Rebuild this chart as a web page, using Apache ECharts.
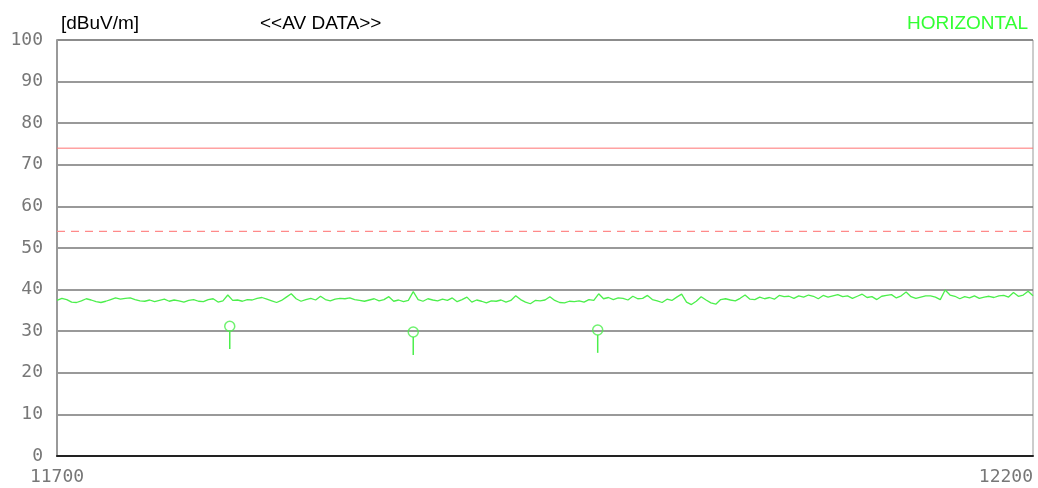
<!DOCTYPE html>
<html>
<head>
<meta charset="utf-8">
<script src="https://cdn.jsdelivr.net/npm/echarts@6/dist/echarts.min.js"></script>
<style>
  html, body { margin: 0; padding: 0; background: #fff; }
  #chart { width: 1038px; height: 488px; }
</style>
</head>
<body>
<div id="chart"></div>
<script>
// frequency axis (MHz)
const freqStart = 11700;
const freqEnd = 12200;
const freqStep = 2.5;

// measured AV trace, one value every freqStep
const traceValues = [
  37.4, 37.9, 37.6, 37.0, 36.9, 37.3, 37.8, 37.5, 37.1, 36.9,
  37.2, 37.6, 38.0, 37.7, 37.9, 38.0, 37.6, 37.3, 37.2, 37.5,
  37.1, 37.4, 37.7, 37.2, 37.5, 37.3, 37.0, 37.4, 37.6, 37.2,
  37.1, 37.6, 37.8, 37.0, 37.3, 38.7, 37.4, 37.5, 37.2, 37.6,
  37.5, 37.9, 38.1, 37.7, 37.3, 36.9, 37.4, 38.2, 39.0, 37.8,
  37.2, 37.6, 37.9, 37.5, 38.4, 37.6, 37.3, 37.7, 37.9, 37.8,
  38.0, 37.6, 37.4, 37.2, 37.5, 37.8, 37.3, 37.6, 38.3, 37.2,
  37.5, 37.1, 37.4, 39.5, 37.6, 37.2, 37.8, 37.5, 37.3, 37.7,
  37.4, 38.0, 37.1, 37.6, 38.2, 37.0, 37.5, 37.2, 36.8, 37.3,
  37.2, 37.5, 37.0, 37.4, 38.5, 37.6, 37.0, 36.6, 37.4, 37.3,
  37.5, 38.3, 37.4, 36.9, 36.8, 37.2, 37.1, 37.3, 37.0, 37.6,
  37.4, 39.0, 37.8, 38.1, 37.6, 38.0, 37.9, 37.5, 38.4, 37.8,
  37.9, 38.6, 37.6, 37.3, 36.9, 37.7, 37.4, 38.2, 38.9, 37.0,
  36.4, 37.2, 38.3, 37.5, 36.8, 36.5, 37.6, 37.8, 37.5, 37.3,
  37.9, 38.7, 37.7, 37.6, 38.2, 37.8, 38.1, 37.7, 38.6, 38.3,
  38.4, 37.9, 38.5, 38.2, 38.7, 38.4, 37.8, 38.6, 38.2, 38.5,
  38.8, 38.3, 38.5, 37.9, 38.4, 38.9, 38.1, 38.3, 37.6, 38.4,
  38.6, 38.8, 38.0, 38.5, 39.4, 38.3, 37.9, 38.2, 38.5, 38.5,
  38.2, 37.6, 39.9, 38.7, 38.4, 37.8, 38.3, 38.0, 38.5, 37.9,
  38.2, 38.4, 38.1, 38.5, 38.6, 38.2, 39.3, 38.4, 38.7, 39.6,
  38.5
];

// peak markers
const markerFreqs = [11788.5, 11882.5, 11977];
const markerValues = [31.2, 29.8, 30.3];
const stemLength = 5.5;

// limit lines
const limitPeak = 74;
const limitAvg = 54;

const yTicks = [0, 10, 20, 30, 40, 50, 60, 70, 80, 90, 100];

const green = '#4cef4c';

const traceData = traceValues.map((v, i) => [freqStart + i * freqStep, v]);
const markerData = markerFreqs.map((f, i) => [f, markerValues[i]]);

const chart = echarts.init(document.getElementById('chart'));

const option = {
  animation: false,
  backgroundColor: '#fff',
  title: [
    {
      text: '[dBuV/m]', left: 56, top: 9,
      textStyle: { fontFamily: 'Liberation Sans', fontSize: 19, fontWeight: 'normal', color: '#000' }
    },
    {
      text: '<<AV DATA>>', left: 255, top: 9,
      textStyle: { fontFamily: 'Liberation Sans', fontSize: 19, fontWeight: 'normal', color: '#000' }
    },
    {
      text: 'HORIZONTAL', right: 5, top: 9,
      textStyle: { fontFamily: 'Liberation Sans', fontSize: 19, fontWeight: 'normal', color: '#33ff33' }
    }
  ],
  grid: {
    left: 57, right: 5, top: 40, bottom: 32,
    show: true, borderColor: '#999', borderWidth: 1
  },
  xAxis: {
    type: 'value',
    min: freqStart,
    max: freqEnd,
    interval: 100,
    axisLine: { show: true, onZero: false, lineStyle: { color: '#222', width: 2 } },
    axisTick: { show: false },
    splitLine: { show: false },
    axisLabel: {
      showMinLabel: true,
      showMaxLabel: true,
      alignMaxLabel: 'right',
      margin: 12,
      fontFamily: 'DejaVu Sans Mono',
      fontSize: 18,
      color: '#777',
      formatter: (v) => (v === freqStart || v === freqEnd ? String(v) : '')
    }
  },
  yAxis: {
    type: 'value',
    min: yTicks[0],
    max: yTicks[yTicks.length - 1],
    interval: 10,
    axisLine: { show: true, lineStyle: { color: '#999', width: 2 } },
    axisTick: { show: false },
    splitLine: { show: true, lineStyle: { color: '#777', width: 1.5 } },
    axisLabel: {
      margin: 14,
      fontFamily: 'DejaVu Sans Mono',
      fontSize: 18,
      color: '#777'
    }
  },
  series: [
    {
      name: 'limitPeak',
      type: 'line',
      symbol: 'none',
      data: [[freqStart, limitPeak], [freqEnd, limitPeak]],
      lineStyle: { color: '#ff7373', width: 1 },
      z: 3
    },
    {
      name: 'limitAvg',
      type: 'line',
      symbol: 'none',
      data: [[freqStart, limitAvg], [freqEnd, limitAvg]],
      lineStyle: { color: '#ff8a8a', width: 1.2, type: [8, 6] },
      z: 3
    },
    {
      name: 'trace',
      type: 'line',
      symbol: 'none',
      data: traceData,
      lineStyle: { color: green, width: 1.3 },
      z: 4
    },
    {
      name: 'stems',
      type: 'custom',
      data: markerData,
      renderItem: (params, api) => {
        const top = api.coord([api.value(0), api.value(1)]);
        const bot = api.coord([api.value(0), api.value(1) - stemLength]);
        return {
          type: 'line',
          shape: { x1: top[0], y1: top[1] + 5, x2: bot[0], y2: bot[1] },
          style: { stroke: green, lineWidth: 1.5 }
        };
      },
      z: 5
    },
    {
      name: 'markers',
      type: 'scatter',
      data: markerData,
      symbol: 'circle',
      symbolSize: 10,
      itemStyle: { color: 'rgba(255,255,255,0)', borderColor: green, borderWidth: 1.5 },
      z: 6
    }
  ]
};

chart.setOption(option);
</script>
</body>
</html>
